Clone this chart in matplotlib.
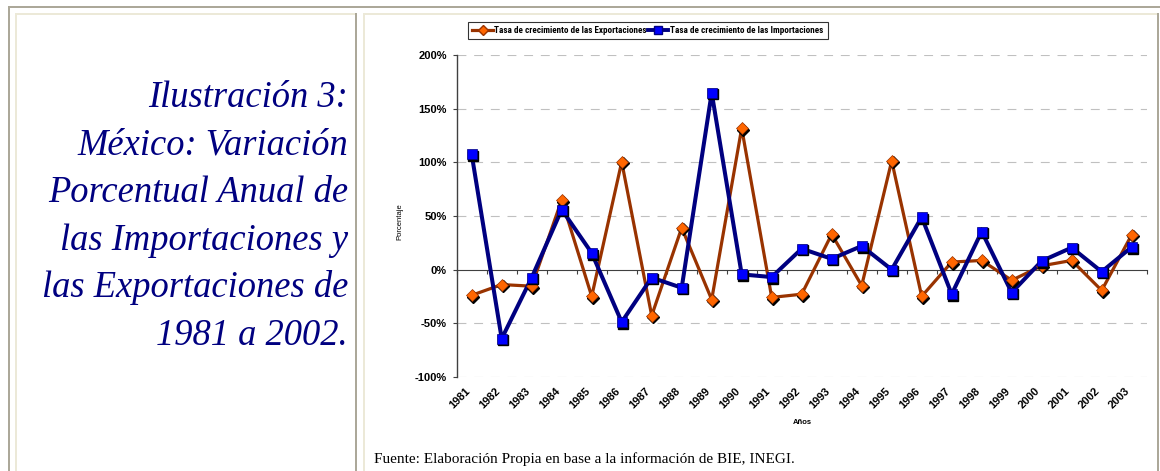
import matplotlib
matplotlib.use("Agg")
import matplotlib.pyplot as plt
from matplotlib.patches import Rectangle
from matplotlib.lines import Line2D
from matplotlib import transforms
import numpy as np

# ---------------- data ----------------
years = ["1981", "1982", "1983", "1984", "1985", "1986", "1987", "1988", "1989", "1990",
         "1991", "1992", "1993", "1994", "1995", "1996", "1997", "1998", "1999", "2000",
         "2001", "2002", "2003"]
exportaciones = [-24, -14, -15.5, 65, -25, 100.5, -43, 39, -28, 132,
                 -26, -23, 33, -15, 101.5, -25, 7, 8.5, -10, 3.5,
                 8.5, -19.5, 32.5]
importaciones = [107.5, -64.5, -7.5, 56, 15.5, -49, -7.5, -17, 165, -4.5,
                 -7, 19.5, 10, 22, 0, 49, -23, 35.5, -21.5, 8,
                 20.5, -2, 21]
ytick_vals = [-100, -50, 0, 50, 100, 150, 200]
ytick_labels = ["-100%", "-50%", "0%", "50%", "100%", "150%", "200%"]
label_exp = "Tasa de crecimiento de las Exportaciones"
label_imp = "Tasa de crecimiento de las Importaciones"
title_lines = ["Ilustración 3:", "México: Variación", "Porcentual Anual de",
               "las Importaciones y", "las Exportaciones de", "1981 a 2002."]
fuente = "Fuente: Elaboración Propia en base a la información de BIE, INEGI."

W, H = 1160, 471
fig = plt.figure(figsize=(W / 100, H / 100), dpi=100)
fig.patch.set_facecolor("white")

def px_rect(x0, y0, x1, y1, color):
    fig.add_artist(Rectangle((x0 / W, 1 - y1 / H), (x1 - x0) / W, (y1 - y0) / H,
                             transform=fig.transFigure, facecolor=color,
                             edgecolor="none", zorder=0))

gray = "#aca899"
beige = "#ece9d8"
# outer table border
px_rect(8, 6, W, 8, gray)
px_rect(8, 6, 10, H, gray)
# left cell
px_rect(15, 13, 357, 15, beige)
px_rect(15, 13, 17, H, beige)
px_rect(355, 13, 357, H, gray)
# right cell
px_rect(363, 13, 1158, 15, beige)
px_rect(363, 13, 365, H, beige)
px_rect(1157, 13, 1159, H, gray)

# ---------------- left title ----------------
for i, line in enumerate(title_lines):
    fig.text(348 / W, 1 - (107 + i * 47.6) / H, line, ha="right", va="baseline",
             fontsize=26.3, style="italic", family="Liberation Serif", color="#000080")

fig.text(374 / W, 1 - 463 / H, fuente, ha="left", va="baseline",
         fontsize=11, family="Liberation Serif", color="black")

# ---------------- chart ----------------
left, right, top, bottom = 456.7, 1146.7, 55.3, 376.7
ax = fig.add_axes([left / W, 1 - bottom / H, (right - left) / W, (bottom - top) / H])
ax.set_facecolor("none")
x = np.arange(len(years))
ax.set_xlim(-0.5, len(years) - 0.5)
ax.set_ylim(-100, 200)

for v in ytick_vals:
    if v != 0:
        ax.axhline(v, color="#c0c0c0", lw=0.8, ls=(0, (8, 7)), zorder=1)

exp_line = "#993300"
exp_mark = "#ff6600"
imp_line = "#000080"
imp_mark = "#0000ff"

shadow = transforms.offset_copy(ax.transData, fig=fig, x=1.6, y=-1.6, units="dots")

ax.plot(x, exportaciones, color=exp_line, lw=2.3, zorder=3, solid_joinstyle="miter")
ax.plot(x, importaciones, color=imp_line, lw=2.9, zorder=4, solid_joinstyle="miter")
ax.plot(x, exportaciones, ls="none", marker="D", ms=6.2, color="black", transform=shadow, zorder=5)
ax.plot(x, exportaciones, ls="none", marker="D", ms=6.2, mfc=exp_mark, mec=exp_line, mew=0.5, zorder=6)
ax.plot(x, importaciones, ls="none", marker="s", ms=7.3, color="black", transform=shadow, zorder=7)
ax.plot(x, importaciones, ls="none", marker="s", ms=7.3, mfc=imp_mark, mec=imp_line, mew=0.5, zorder=8)

# axes styling
for s in ["top", "right", "bottom"]:
    ax.spines[s].set_visible(False)
ax.spines["left"].set_color("#404040")
ax.spines["left"].set_linewidth(1.0)
ax.set_yticks(ytick_vals)
ax.set_yticklabels(ytick_labels, fontsize=8, fontweight="bold", family="Liberation Sans")
ax.tick_params(axis="y", direction="out", length=3, width=0.8, color="#404040", pad=4)
ax.set_xticks(x)
ax.set_xticklabels(years, rotation=45, ha="right", va="top", rotation_mode="default",
                   fontsize=8, fontweight="bold", family="Liberation Sans")
ax.tick_params(axis="x", length=0, pad=6.5)
ax.set_xlabel("Años", fontsize=5.5, fontweight="bold", family="Liberation Sans")
ax.xaxis.set_label_coords(0.5004, -0.1316)
ax.set_ylabel("Porcentaje", fontsize=5.5, family="Liberation Sans")
ax.yaxis.set_label_coords(-0.078, 0.484)

# zero axis with category-boundary ticks
sec = ax.secondary_xaxis(1 / 3)
sec.spines["bottom"].set_color("#404040")
sec.spines["top"].set_color("#404040")
sec.set_xticks(np.arange(len(years) + 1) - 0.5)
sec.tick_params(axis="x", direction="out", length=3, width=0.8, color="#404040",
                labelbottom=False, labeltop=False)

# legend
h1 = Line2D([], [], color=exp_line, lw=2.3, marker="D", ms=5, mfc=exp_mark, mec=exp_line)
h2 = Line2D([], [], color=imp_line, lw=2.8, marker="s", ms=5.5, mfc=imp_mark, mec=imp_line)
leg = fig.legend([h1, h2], [label_exp, label_imp], loc="center",
                 bbox_to_anchor=(648 / W, 1 - 30.5 / H), ncol=2, frameon=True,
                 fancybox=False, handlelength=2.2, handletextpad=0.2, columnspacing=0.15,
                 borderpad=0.45, borderaxespad=0,
                 prop={"family": ["Roboto Condensed", "Liberation Sans"],
                       "weight": "bold", "size": 6.6})
leg.get_frame().set_edgecolor("black")
leg.get_frame().set_linewidth(0.8)

fig.savefig("out.png", dpi=100)
